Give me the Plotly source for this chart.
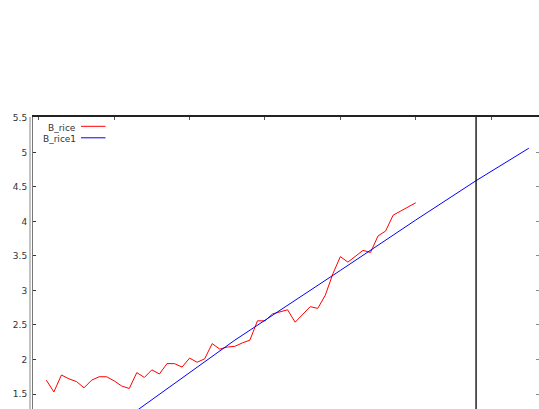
import plotly.graph_objects as go

# ---- data ----
years = list(range(1961, 2011))
b_rice = [1.70, 1.53, 1.775, 1.72, 1.68, 1.59, 1.70, 1.75, 1.75, 1.69,
          1.616, 1.58, 1.81, 1.74, 1.85, 1.79, 1.94, 1.94, 1.89, 2.02,
          1.96, 2.01, 2.23, 2.15, 2.18, 2.19, 2.24, 2.28, 2.56, 2.56,
          2.66, 2.69, 2.72, 2.54, 2.655, 2.765, 2.74, 2.93, 3.24, 3.49,
          3.41, 3.50, 3.58, 3.55, 3.79, 3.86, 4.09, 4.15, 4.21, 4.27]

fit_years = [1961, 1973, 1986, 2000, 2010, 2018, 2025]
b_rice1 = [0.32, 1.26, 2.28, 3.29, 4.02, 4.59, 5.06]

y_ticks = [1.5, 2, 2.5, 3, 3.5, 4, 4.5, 5, 5.5]
y_tick_labels = ["1.5", "2", "2.5", "3", "3.5", "4", "4.5", "5", "5.5"]
x_ticks = [1960, 1970, 1980, 1990, 2000, 2010, 2020]
marker_year = 2018
series_names = ["B_rice", "B_rice1"]

# ---- layout geometry (pixels; page body margin removed below) ----
OFF = 0
W, H = 539, 409
L, T = 33, 117
PW, PH = W - L + 2, H - T
X_LEFT, PX_PER_YEAR = 1959.23, 7.539
X_RIGHT = X_LEFT + PW / PX_PER_YEAR
Y_TOP, Y_BOTTOM = 5.512, 1.283

FONT = "DejaVu Sans"
TXT = "#333333"

fig = go.Figure()
fig.add_trace(go.Scatter(x=years, y=b_rice, mode="lines", name=series_names[0],
                         line=dict(color="#ff0000", width=1)))
fig.add_trace(go.Scatter(x=fit_years, y=b_rice1, mode="lines", name=series_names[1],
                         line=dict(color="#0000ff", width=1)))
# invisible trace to carry the right-hand mirror ticks
fig.add_trace(go.Scatter(x=[None], y=[None], yaxis="y2", showlegend=False))

fig.add_shape(type="line", xref="x", yref="paper", x0=marker_year, x1=marker_year,
              y0=0, y1=1, line=dict(color="#000000", width=1.3))
# second (outer) left border line
fig.add_shape(type="line", xref="paper", yref="paper", x0=-3 / PW, x1=-3 / PW,
              y0=0, y1=1, line=dict(color="#888888", width=1))


def px(xp):
    return (xp - OFF - L) / PW


def py(yp):
    return 1 - (yp - OFF - T) / PH


legend_rows = [(series_names[0], "#ff0000", 127.5), (series_names[1], "#0000ff", 139.0)]
for name, color, yrow in legend_rows:
    fig.add_annotation(text=name, xref="paper", yref="paper", x=px(77.5), y=py(yrow),
                       xanchor="right", yanchor="middle", showarrow=False,
                       font=dict(family=FONT, size=9, color=TXT))
    fig.add_shape(type="line", xref="paper", yref="paper", x0=px(81), x1=px(105.5),
                  y0=py(yrow - 1.2), y1=py(yrow - 1.2), line=dict(color=color, width=1))

fig.update_layout(
    width=W + 2, height=H,
    margin=dict(l=L, r=0, t=T, b=0, pad=0),
    paper_bgcolor="white", plot_bgcolor="white",
    showlegend=False,
    xaxis=dict(range=[X_LEFT, X_RIGHT], side="top", tickvals=x_ticks,
               showticklabels=False, ticks="inside", ticklen=3, tickcolor="#555555",
               showline=True, linecolor="#222222", linewidth=2,
               showgrid=False, zeroline=False),
    yaxis=dict(range=[Y_BOTTOM, Y_TOP], tickvals=y_ticks, ticktext=y_tick_labels,
               ticks="inside", ticklen=3, tickcolor="#333333",
               showline=True, linecolor="#777777", linewidth=1,
               showgrid=False, zeroline=False, ticklabelstandoff=3,
               tickfont=dict(family=FONT, size=9, color=TXT)),
    yaxis2=dict(range=[Y_BOTTOM, Y_TOP], overlaying="y", side="right",
                tickvals=y_ticks, showticklabels=False, ticks="inside", ticklen=5,
                tickcolor="#888888", showline=False, showgrid=False, zeroline=False),
)

fig.write_html("out.html",
               config={"displayModeBar": False, "staticPlot": True},
               post_script="document.body.style.margin='0';"
                           "document.body.style.overflow='hidden';")
